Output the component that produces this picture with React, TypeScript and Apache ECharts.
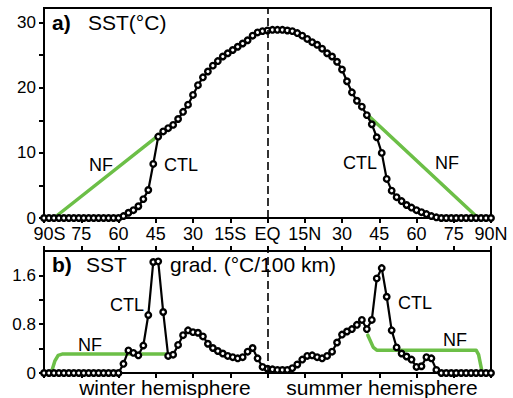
import React, { useEffect, useRef } from "react";
import * as echarts from "echarts";

const FONT = '"Liberation Sans", Arial, Helvetica, sans-serif';
const GREEN = "#6cbf47";

const LAT = [
  -90, -88, -86, -84, -82, -80, -78, -76, -74, -72, -70, -68, -66, -64, -62, -60,
  -58, -56, -54, -52, -50, -48, -46, -44, -42, -40,
  -38, -36, -34, -32, -30, -28, -26, -24, -22, -20, -18, -16, -14, -12, -10, -8, -6, -4, -2,
  0,
  2, 4, 6, 8, 10, 12, 14, 16, 18, 20, 22, 24, 26, 28, 30, 32, 34, 36, 38,
  40, 42, 44, 46, 48, 50, 52, 54, 56, 58,
  60, 62, 64, 66, 68, 70, 72, 74, 76, 78, 80, 82, 84, 86, 88, 90,
];

const CTL_SST = [
  0, 0, 0, 0, 0, 0, 0, 0, 0, 0, 0, 0, 0, 0, 0, 0,
  0.3, 0.8, 1.2, 1.8, 2.9, 4.3, 8.3, 12.5, 13.3, 13.8,
  14.3, 15.2, 16.3, 17.4, 18.9, 20.4, 21.6, 22.5, 23.4, 24.1, 24.8, 25.3, 25.8, 26.3, 26.8, 27.3, 28.0, 28.5, 28.7,
  28.8,
  28.9, 28.9, 28.9, 28.8, 28.7, 28.4, 28.0, 27.5, 27.0, 26.6, 26.0, 25.3, 24.8, 24.0, 22.8, 21.0, 19.3, 18.0, 17.1,
  15.8, 14.4, 12.4, 10.0, 6.0, 4.2, 3.2, 2.6, 2.0, 1.6,
  1.2, 0.9, 0.6, 0.3, 0.1, 0, 0, 0, 0, 0, 0, 0, 0, 0, 0, 0,
];

const CTL_GRAD = [
  0, 0, 0, 0, 0, 0, 0, 0, 0, 0, 0, 0, 0, 0, 0, 0,
  0.15, 0.37, 0.33, 0.29, 0.45, 0.95, 1.82, 1.83, 1.0, 0.28,
  0.3, 0.46, 0.62, 0.7, 0.67, 0.66, 0.6, 0.48, 0.41, 0.36, 0.32, 0.28, 0.26, 0.24, 0.26, 0.35, 0.41, 0.24, 0.1,
  0.07,
  0.06, 0.05, 0.05, 0.05, 0.08, 0.14, 0.22, 0.28, 0.29, 0.26, 0.24, 0.28, 0.35, 0.5, 0.63, 0.68, 0.72, 0.79, 0.87,
  0.72, 0.87, 1.55, 1.72, 1.25, 0.7, 0.42, 0.32, 0.27, 0.22,
  0.1, 0.11, 0.26, 0.24, 0.05, 0, 0, 0, 0, 0, 0, 0, 0, 0, 0, 0,
];

const NF_SST_S_LAT = [-86, -42.5];
const NF_SST_S = [0, 13.1];
const NF_SST_N_LAT = [41, 84.8];
const NF_SST_N = [15.6, 0];

const NF_GRAD_S_LAT = [-86.8, -85.6, -84.3, -82.7, -40.9, -39.6];
const NF_GRAD_S = [0.04, 0.2, 0.29, 0.31, 0.31, 0.25];
const NF_GRAD_N_LAT = [40.4, 42.6, 44, 84, 85, 86.3];
const NF_GRAD_N = [0.62, 0.42, 0.375, 0.375, 0.3, 0.04];

const X_TICKS = [-90, -75, -60, -45, -30, -15, 0, 15, 30, 45, 60, 75, 90];
const X_LABELS = ["90S", "75", "60", "45", "30", "15S", "EQ", "15N", "30", "45", "60", "75", "90N"];
const TOP_Y_TICKS = [0, 5, 10, 15, 20, 25, 30];
const TOP_Y_LABELS = [0, 10, 20, 30];
const BOT_Y_TICKS = [0, 0.4, 0.8, 1.2, 1.6];
const BOT_Y_LABELS = [0, 0.8, 1.6];

const zip = (xs: number[], ys: number[]) => xs.map((x, i) => [x, ys[i]]);

const axisLine = { show: true, onZero: false, lineStyle: { color: "#000", width: 2 } };
const tick = { show: true, inside: false, length: 5, lineStyle: { color: "#000", width: 2 } };

function xAxisDef(gridIndex: number, position: string, showLabel: boolean) {
  return {
    type: "value",
    gridIndex,
    position,
    min: -90,
    max: 90,
    axisLine,
    axisTick: { ...tick, customValues: X_TICKS },
    splitLine: { show: false },
    axisLabel: {
      show: showLabel,
      customValues: X_TICKS,
      formatter: (v: number) => {
        const i = X_TICKS.indexOf(Math.round(v));
        const s = X_LABELS[i] ?? "";
        return i === 0 ? "{first|" + s + "}" : s;
      },
      rich: {
        first: { padding: [0, 0, 0, 11], fontSize: 18, fontFamily: FONT, color: "#000" },
      },
      fontSize: 18,
      color: "#000",
      fontFamily: FONT,
      margin: 7,
    },
  };
}

const eqMarkLine = {
  silent: true,
  symbol: ["none", "none"],
  label: { show: false },
  lineStyle: { color: "#000", type: [8, 4], width: 1.6 },
  data: [{ xAxis: 0 }],
};

function ctlSeries(xi: number, yi: number, vals: number[]) {
  return {
    type: "line",
    xAxisIndex: xi,
    yAxisIndex: yi,
    data: zip(LAT, vals),
    symbol: "circle",
    symbolSize: 5.5,
    itemStyle: { color: "#fff", borderColor: "#000", borderWidth: 2.4 },
    lineStyle: { color: "#000", width: 2.2 },
    z: 4,
    markLine: eqMarkLine,
  };
}

function nfSeries(xi: number, yi: number, lat: number[], vals: number[]) {
  return {
    type: "line",
    xAxisIndex: xi,
    yAxisIndex: yi,
    data: zip(lat, vals),
    symbol: "none",
    lineStyle: { color: GREEN, width: 3.5, cap: "round", join: "round" },
    z: 3,
  };
}

function txt(text: string, x: number, y: number, size: number, bold = false, align = "left") {
  return {
    type: "text",
    x,
    y,
    z: 10,
    style: {
      text,
      fontSize: size,
      fontFamily: FONT,
      fontWeight: bold ? "bold" : "normal",
      fill: "#000",
      align,
      verticalAlign: "middle",
    },
  };
}

const yLabel = { fontSize: 17, color: "#000", fontFamily: FONT, margin: 8 };

export default function App() {
  const ref = useRef<HTMLDivElement>(null);
  useEffect(() => {
    if (!ref.current) return;
    const chart = echarts.init(ref.current, undefined, { renderer: "svg" });
    const option: any = {
      animation: false,
      backgroundColor: "#fff",
      grid: [
        { left: 44, top: 8, width: 447, height: 210, show: true, borderColor: "#000", borderWidth: 2 },
        { left: 44, top: 251, width: 447, height: 122, show: true, borderColor: "#000", borderWidth: 2 },
      ],
      xAxis: [xAxisDef(0, "bottom", true), xAxisDef(1, "bottom", false), xAxisDef(1, "top", false)],
      yAxis: [
        {
          type: "value",
          gridIndex: 0,
          min: 0,
          max: 32.25,
          axisLine,
          axisTick: { ...tick, customValues: TOP_Y_TICKS },
          splitLine: { show: false },
          axisLabel: { ...yLabel, customValues: TOP_Y_LABELS },
        },
        {
          type: "value",
          gridIndex: 1,
          min: 0,
          max: 2,
          axisLine,
          axisTick: { ...tick, customValues: BOT_Y_TICKS },
          splitLine: { show: false },
          axisLabel: {
            ...yLabel,
            customValues: BOT_Y_LABELS,
            formatter: (v: number) => (v === 0 ? "0" : v.toFixed(1)),
          },
        },
      ],
      series: [
        nfSeries(0, 0, NF_SST_S_LAT, NF_SST_S),
        nfSeries(0, 0, NF_SST_N_LAT, NF_SST_N),
        ctlSeries(0, 0, CTL_SST),
        nfSeries(1, 1, NF_GRAD_S_LAT, NF_GRAD_S),
        nfSeries(1, 1, NF_GRAD_N_LAT, NF_GRAD_N),
        ctlSeries(1, 1, CTL_GRAD),
      ],
      graphic: [
        txt("a)", 52, 22, 21, true),
        txt("SST(°C)", 88, 22, 21),
        txt("b)", 52, 264, 21, true),
        txt("SST", 86, 264, 21),
        txt("grad. (°C/100 km)", 170, 264, 21),
        txt("NF", 89, 165, 18),
        txt("CTL", 164, 165, 18),
        txt("CTL", 343, 163, 18),
        txt("NF", 435, 163, 18),
        txt("CTL", 110, 305, 18),
        txt("NF", 78, 345, 18),
        txt("CTL", 398, 303, 18),
        txt("NF", 443, 340, 18),
        txt("winter hemisphere", 165, 387, 21, false, "center"),
        txt("summer hemisphere", 382, 387, 21, false, "center"),
      ],
    };
    chart.setOption(option);
    return () => chart.dispose();
  }, []);
  return (
    <div
      ref={ref}
      style={{ position: "fixed", left: 0, top: 0, width: 513, height: 398, background: "#fff" }}
    />
  );
}
